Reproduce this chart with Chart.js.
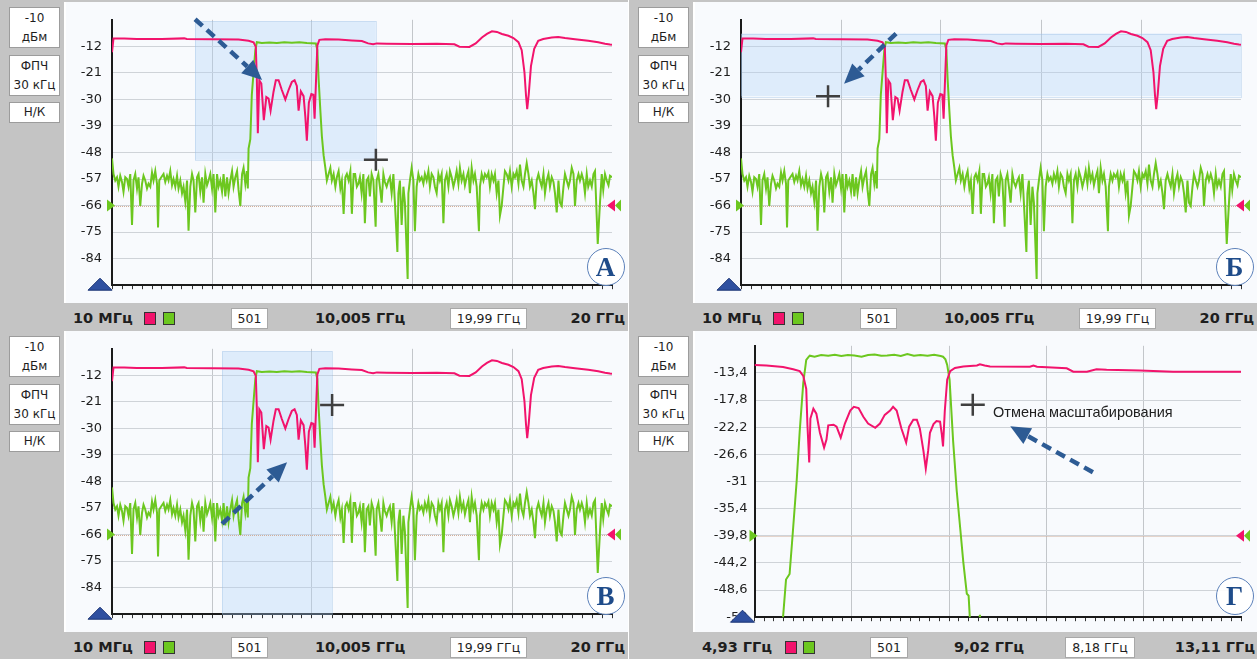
<!DOCTYPE html>
<html lang="ru">
<head>
<meta charset="utf-8">
<title>Масштабирование</title>
<script src="https://cdn.jsdelivr.net/npm/chart.js@4.4.1/dist/chart.umd.min.js"></script>
<style>
  body { margin: 0; width: 1260px; height: 663px; background: #fff; overflow: hidden; position: relative;
         font-family: "DejaVu Sans", sans-serif; color: #1e1e1e; }
  .panel { position: absolute; width: 628px; height: 330px; background: #c4c4c4; }
  .panel canvas { position: absolute; left: 66px; top: 2px; background: #f8fafd; }
  .edge { position: absolute; left: 64px; top: 2px; width: 2px; height: 301px; background: #fff; }
  .box { position: absolute; left: 9px; width: 49px; background: #fff; border: 1px solid #9c9c9c;
         text-align: center; font-size: 12px; line-height: 19px; }
  .lbl { position: absolute; top: 310px; font-weight: bold; font-size: 14.5px; line-height: 17px; white-space: nowrap; }
  .val { position: absolute; top: 308px; height: 19px; background: #fff; border: 1px solid #a8a8a8;
         font-size: 12.5px; line-height: 19px; text-align: center; white-space: nowrap; }
  .sq { position: absolute; top: 312px; width: 10px; height: 11px; border: 1px solid #333; }
  .mark { position: absolute; width: 36px; height: 36px; border-radius: 50%; border: 1.5px solid #5b80b9;
          background: rgba(255,255,255,0.9); color: #1f4c8a; font: bold 27px "Liberation Serif", serif;
          text-align: center; line-height: 37px; }
  .note { position: absolute; font: 14.5px "Liberation Sans", sans-serif; color: #202020; white-space: nowrap; line-height: 17px; }
</style>
</head>
<body>
<script>
// sweep 10 MHz .. 20 GHz (panels A, B, C) : [GHz, dB]
const s11Full = [
  [0.01,-14.0],[0.07,-9.3],[0.5,-9.3],[1.0,-9.5],[2.0,-9.5],[2.9,-9.3],[3.0,-9.5],[4.0,-9.6],[5.07,-9.7],[5.47,-10.1],[5.67,-10.6],[5.76,-12.2],
  [5.80,-23.0],[5.84,-41.5],[5.90,-23.5],[5.98,-24.6],[6.08,-37.0],[6.18,-29.2],[6.27,-29.7],[6.35,-33.8],[6.47,-27.3],[6.56,-23.5],
  [6.67,-23.5],[6.80,-26.8],[6.94,-30.0],[7.07,-26.8],[7.20,-24.1],[7.31,-23.5],[7.40,-25.4],[7.47,-33.8],[7.56,-27.3],[7.67,-28.9],
  [7.74,-35.9],[7.80,-44.0],[7.88,-31.1],[7.98,-28.2],[8.06,-28.4],[8.11,-36.5],[8.16,-25.2],[8.22,-11.7],[8.30,-9.8],[8.54,-9.6],
  [9.07,-9.7],[9.60,-10.0],[10.0,-10.2],[10.25,-11.0],[10.45,-11.3],[10.6,-11.0],[11.0,-11.1],[12.0,-11.2],[13.0,-11.1],[13.7,-11.3],
  [13.9,-12.1],[14.3,-12.2],[14.55,-11.0],[14.8,-9.0],[15.0,-7.8],[15.2,-6.9],[15.4,-7.1],[15.6,-7.8],[15.86,-8.4],[16.06,-9.2],
  [16.26,-10.6],[16.39,-13.3],[16.50,-20.8],[16.56,-28.4],[16.61,-33.3],[16.67,-28.4],[16.76,-18.7],[16.89,-12.8],[17.05,-10.1],
  [17.25,-9.5],[17.59,-9.0],[17.85,-8.8],[18.12,-9.2],[18.52,-9.6],[19.05,-10.1],[19.45,-10.6],[19.72,-11.1],[19.92,-11.4],[20.0,-11.5]
];
const s21Full = [
  [0.01,-50.0],[0.07,-55.3],[0.14,-57.5],[0.21,-56.4],[0.27,-59.6],[0.34,-55.9],[0.41,-58.0],[0.47,-61.3],[0.54,-56.4],[0.61,-57.0],
  [0.67,-59.6],[0.74,-55.3],[0.81,-72.6],[0.87,-57.5],[0.94,-55.3],[1.01,-60.2],[1.07,-56.4],[1.14,-66.1],[1.21,-58.6],[1.27,-55.9],
  [1.34,-57.5],[1.41,-60.2],[1.47,-58.6],[1.54,-59.6],[1.61,-54.8],[1.67,-57.5],[1.74,-54.3],[1.81,-58.6],
  [1.85,-73.4],[1.90,-57.5],[1.98,-56.4],[2.07,-55.3],[2.14,-58.0],[2.21,-55.9],[2.27,-57.5],[2.34,-54.3],[2.41,-59.1],[2.47,-57.0],
  [2.54,-59.6],[2.61,-55.9],[2.67,-60.2],[2.74,-57.5],[2.81,-61.8],[2.87,-59.6],[2.94,-64.5],
  [3.01,-57.5],[3.07,-74.5],[3.14,-59.6],[3.21,-55.3],[3.27,-57.5],[3.34,-68.3],[3.41,-56.4],[3.47,-55.3],[3.54,-61.3],[3.61,-56.4],
  [3.67,-65.0],[3.74,-55.3],[3.81,-59.1],[3.87,-57.5],[3.94,-55.3],[4.01,-60.2],[4.07,-55.3],[4.14,-68.3],[4.21,-55.3],[4.27,-59.6],
  [4.34,-57.5],[4.41,-61.3],[4.47,-55.3],[4.54,-62.9],[4.61,-56.4],[4.67,-61.8],[4.74,-57.5],[4.81,-54.3],[4.87,-59.6],[4.94,-56.4],
  [5.01,-54.3],[5.07,-60.7],[5.14,-66.1],[5.21,-55.3],[5.27,-53.2],[5.34,-58.6],[5.40,-54.3],[5.44,-60.2],[5.47,-46.7],[5.54,-43.5],
  [5.60,-28.4],[5.67,-20.8],[5.74,-13.3],[5.80,-10.6],[6.0,-10.9],[6.3,-10.7],[6.6,-10.9],[6.9,-10.6],[7.2,-10.8],[7.5,-10.6],
  [7.8,-10.9],[8.16,-11.0],[8.22,-13.3],[8.27,-23.0],[8.34,-33.8],[8.40,-42.4],[8.47,-48.9],[8.54,-53.2],[8.60,-57.5],[8.67,-55.3],
  [8.74,-53.2],[8.80,-57.5],[8.87,-55.3],[8.94,-59.6],[9.00,-56.4],[9.07,-54.3],[9.14,-60.2],[9.20,-57.5],[9.27,-68.8],[9.34,-56.4],
  [9.40,-55.3],[9.47,-57.5],[9.54,-54.3],[9.60,-68.8],[9.67,-55.3],[9.73,-55.3],[9.80,-59.6],[9.86,-58.6],[9.92,-56.4],[9.99,-61.8],
  [10.06,-55.3],[10.12,-72.0],[10.19,-57.5],[10.26,-56.4],[10.32,-62.9],[10.39,-55.3],[10.46,-57.5],
  [10.55,-73.2],[10.59,-57.5],[10.66,-55.3],[10.72,-59.6],[10.79,-65.0],[10.86,-55.3],[10.92,-58.0],[10.99,-59.6],[11.06,-57.5],
  [11.12,-56.4],[11.19,-61.8],[11.26,-55.3],[11.32,-65.0],[11.42,-81.7],[11.46,-61.8],[11.52,-57.5],
  [11.59,-72.6],[11.66,-59.6],[11.72,-65.0],[11.83,-90.9],[11.86,-61.8],[11.92,-57.5],[11.99,-53.2],[12.06,-57.5],[12.12,-74.7],
  [12.19,-59.6],[12.26,-55.3],[12.32,-57.5],[12.39,-56.4],[12.46,-58.6],[12.52,-55.3],[12.59,-57.5],
  [12.66,-54.3],[12.72,-59.6],[12.79,-55.3],[12.86,-56.4],[12.92,-59.6],[12.99,-61.8],[13.06,-55.3],[13.12,-57.5],[13.19,-55.3],
  [13.26,-72.0],[13.32,-57.5],[13.39,-55.3],[13.46,-59.6],[13.52,-54.3],[13.59,-56.4],[13.66,-59.6],
  [13.72,-57.5],[13.79,-54.3],[13.86,-58.6],[13.92,-53.2],[13.99,-57.5],[14.06,-55.3],[14.12,-59.1],[14.19,-56.4],[14.26,-54.3],
  [14.32,-61.8],[14.39,-53.2],[14.46,-57.5],[14.52,-55.3],[14.59,-59.6],[14.68,-74.7],[14.72,-59.6],[14.79,-55.3],
  [14.86,-57.5],[14.92,-55.3],[14.99,-56.4],[15.06,-54.8],[15.12,-59.6],[15.19,-55.3],[15.26,-57.5],[15.32,-55.3],[15.39,-61.8],
  [15.46,-57.5],[15.52,-69.4],[15.59,-66.1],[15.66,-59.6],[15.72,-54.3],[15.79,-55.3],[15.86,-57.5],[15.92,-54.3],
  [15.99,-59.6],[16.06,-55.3],[16.12,-56.4],[16.19,-54.3],[16.26,-58.6],[16.32,-52.1],[16.39,-57.5],[16.46,-59.6],[16.52,-55.3],
  [16.59,-51.6],[16.66,-55.3],[16.72,-59.6],[16.79,-57.5],[16.86,-61.8],[16.92,-67.2],[16.99,-57.5],
  [17.06,-55.3],[17.12,-57.5],[17.19,-59.6],[17.26,-55.3],[17.32,-61.8],[17.39,-57.5],[17.46,-55.3],[17.52,-59.6],[17.59,-56.4],
  [17.66,-58.0],[17.72,-61.8],[17.79,-68.3],[17.86,-57.5],[17.92,-65.0],[17.99,-66.1],[18.06,-59.6],[18.12,-55.3],
  [18.19,-57.5],[18.26,-59.6],[18.32,-57.5],[18.39,-53.2],[18.46,-55.3],[18.52,-66.1],[18.59,-57.5],[18.66,-55.3],[18.72,-57.5],
  [18.79,-55.3],[18.86,-57.5],[18.92,-61.8],[18.99,-55.3],[19.05,-59.6],[19.12,-57.5],[19.19,-59.6],[19.26,-55.3],
  [19.32,-54.3],[19.43,-79.0],[19.52,-65.0],[19.59,-55.3],[19.65,-60.7],[19.72,-55.3],[19.79,-57.5],[19.86,-59.1],[19.92,-55.9],
  [20.0,-56.4]
];

// zoomed sweep 4,93 .. 13,11 GHz (panel D)
const s11Zoom = [
  [4.93,-12.1],[5.13,-12.2],[5.41,-12.45],[5.58,-12.8],[5.69,-13.1],[5.75,-13.9],[5.80,-16.0],[5.82,-21.8],[5.85,-27.9],[5.87,-20.8],
  [5.92,-19.2],[5.97,-20.0],[6.03,-23.1],[6.10,-25.5],[6.14,-24.2],[6.17,-21.9],[6.26,-21.8],[6.31,-22.1],[6.38,-23.9],[6.45,-21.6],
  [6.54,-19.5],[6.60,-18.9],[6.68,-19.1],[6.76,-20.5],[6.84,-21.6],[6.96,-22.3],[7.04,-21.6],[7.12,-20.2],[7.21,-19.5],[7.26,-18.9],
  [7.32,-19.5],[7.40,-22.4],[7.48,-24.7],[7.53,-22.1],[7.60,-21.0],[7.66,-21.0],[7.71,-22.4],[7.77,-26.0],[7.81,-28.9],[7.85,-26.0],
  [7.88,-23.1],[7.94,-21.7],[7.99,-21.2],[8.05,-21.3],[8.08,-23.4],[8.10,-25.3],[8.13,-19.5],[8.17,-14.5],[8.22,-13.1],[8.30,-12.6],
  [8.44,-12.35],[8.67,-12.2],[8.72,-12.0],[8.80,-12.2],[8.89,-12.35],[9.56,-12.4],[9.62,-12.2],[9.68,-12.4],[10.18,-12.65],
  [10.29,-13.2],[10.52,-13.2],[10.68,-12.8],[10.85,-12.9],[11.41,-13.0],[11.97,-13.2],[13.11,-13.2]
];
const s21Zoom = [
  [5.30,-60.0],[5.41,-53.0],[5.46,-46.9],[5.52,-46.0],[5.57,-39.8],[5.64,-30.8],[5.69,-22.9],[5.75,-15.0],[5.80,-11.3],[5.84,-10.8],
  [5.86,-10.6],[5.94,-10.77],[6.05,-10.5],[6.17,-10.61],[6.28,-10.45],[6.39,-10.66],[6.50,-10.5],[6.61,-10.56],[6.73,-10.77],
  [6.84,-10.5],[6.95,-10.4],[7.06,-10.61],[7.16,-10.56],[7.28,-10.45],[7.39,-10.66],[7.50,-10.34],[7.61,-10.61],[7.72,-10.5],
  [7.84,-10.61],[7.95,-10.45],[8.06,-10.66],[8.10,-10.77],[8.14,-11.2],[8.17,-12.1],[8.21,-14.5],[8.27,-24.5],[8.33,-32.5],
  [8.39,-38.7],[8.44,-44.0],[8.50,-49.2],[8.53,-49.5],[8.55,-53.0],[8.60,-60.0],[8.67,-58.0],[8.72,-52.6],[8.77,-58.0],
  [9.5,-60.0],[10.5,-62.0],[11.5,-59.0],[12.5,-61.0],[13.11,-60.0]
];

const fullSpan = [0.01, 20];
const zoomSpan = [4.93, 13.11];
const fullDbTicks = [-93, -84, -75, -66, -57, -48, -39, -30, -21, -12, -3];
const zoomDbTicks = [-53, -48.6, -44.2, -39.8, -35.4, -31, -26.6, -22.2, -17.8, -13.4, -9];
const refFull = -66;
const refZoom = -39.8;

const sideText = [['-10', 'дБм'], ['ФПЧ', '30 кГц'], ['Н/К']];
const fullBarText = ['10 МГц', '501', '10,005 ГГц', '19,99 ГГц', '20 ГГц'];
const zoomBarText = ['4,93 ГГц', '501', '9,02 ГГц', '8,18 ГГц', '13,11 ГГц'];

const red = '#f2136c', green = '#6cc71f';

// bottom bar layout: start label, two squares, point count box, centre label, span box, end label
const fullBar = { start: 73, sq: [144, 163], count: [231, 35], mid: 315, span: [450, 75], endRight: 3 };
const zoomBar = { start: 73, sq: [156, 174], count: [241, 36], mid: 325, span: [436, 68], endRight: 2 };

const panels = [
  { id: 'pA', left: 0, top: 0, letter: 'А', axisW: 46, pad: 10, full: true,
    sel: [3.33, 10.56, -3.46, -50.5], arrow: [3.33, -2.8, 6.01, -23.4], cross: [10.56, -50.5] },
  { id: 'pB', left: 629, top: 0, letter: 'Б', axisW: 46, pad: 10, full: true,
    sel: [0.01, 20, -7.65, -28.9], arrow: [6.21, -7.65, 4.13, -24.7], cross: [3.49, -28.9] },
  { id: 'pC', left: 0, top: 329, letter: 'В', axisW: 46, pad: 10, full: true,
    sel: [4.41, 8.81, -3.8, -93], arrow: [4.41, -62.4, 7.01, -41.5], cross: [8.81, -22.1] },
  { id: 'pD', left: 629, top: 329, letter: 'Г', axisW: 59.5, pad: 7, full: false,
    arrow: [10.62, -29.5, 9.23, -22.06], cross: [8.60, -18.56], note: 'Отмена масштабирования' }
];
const panelById = {};

function tri(ctx, pts, fill, stroke) {
  ctx.beginPath();
  ctx.moveTo(pts[0][0], pts[0][1]);
  ctx.lineTo(pts[1][0], pts[1][1]);
  ctx.lineTo(pts[2][0], pts[2][1]);
  ctx.closePath();
  ctx.fillStyle = fill;
  ctx.fill();
  if (stroke) { ctx.strokeStyle = stroke; ctx.lineWidth = 1; ctx.stroke(); }
}

function arrow(ctx, x1, y1, x2, y2) {
  const ang = Math.atan2(y2 - y1, x2 - x1), head = 20, w = 9;
  const bx = x2 - head * Math.cos(ang), by = y2 - head * Math.sin(ang);
  ctx.save();
  ctx.strokeStyle = '#2d5b94';
  ctx.lineWidth = 4.5;
  ctx.setLineDash([10, 6]);
  ctx.beginPath(); ctx.moveTo(x1, y1); ctx.lineTo(bx, by); ctx.stroke();
  ctx.setLineDash([]);
  tri(ctx, [[x2, y2], [bx + w * Math.sin(ang), by - w * Math.cos(ang)], [bx - w * Math.sin(ang), by + w * Math.cos(ang)]], '#2d5b94');
  ctx.restore();
}

const overlay = {
  id: 'overlay',
  beforeDatasetsDraw(chart) {
    const p = panelById[chart.canvas.id];
    const {ctx, chartArea: a, scales: {x, y}} = chart;
    ctx.save();
    if (p.sel) {
      const x1 = x.getPixelForValue(p.sel[0]), x2 = x.getPixelForValue(p.sel[1]);
      const y1 = y.getPixelForValue(p.sel[2]), y2 = y.getPixelForValue(p.sel[3]);
      ctx.fillStyle = 'rgba(176,210,246,0.35)';
      ctx.fillRect(x1, y1, x2 - x1, y2 - y1);
      ctx.strokeStyle = 'rgba(150,185,225,0.35)';
      ctx.lineWidth = 1;
      ctx.strokeRect(Math.round(x1) + .5, Math.round(y1) + .5, Math.round(x2 - x1), Math.round(y2 - y1));
    }
    const ry = Math.round(y.getPixelForValue(p.ref)) + .5;
    ctx.strokeStyle = '#d2ae98';
    ctx.lineWidth = 1;
    ctx.setLineDash([1, 1]);
    ctx.beginPath(); ctx.moveTo(a.left, ry); ctx.lineTo(a.right, ry); ctx.stroke();
    ctx.restore();
  },
  afterDraw(chart) {
    const p = panelById[chart.canvas.id];
    const {ctx, chartArea: a, scales: {x, y}} = chart;
    const ry = y.getPixelForValue(p.ref);
    ctx.save();
    tri(ctx, [[a.left + 3, ry], [a.left - 5, ry - 6], [a.left - 5, ry + 6]], green);
    tri(ctx, [[a.right + 3, ry], [a.right + 9, ry - 6], [a.right + 9, ry + 6]], green);
    tri(ctx, [[a.right - 5, ry], [a.right + 3, ry - 6], [a.right + 3, ry + 6]], red);
    tri(ctx, [[a.left - 24, a.bottom + 5], [a.left, a.bottom + 5], [a.left - 12, a.bottom - 7]], '#2f50a0', '#1c3575');
    const cx = x.getPixelForValue(p.cross[0]), cy = y.getPixelForValue(p.cross[1]);
    ctx.strokeStyle = '#3f3f3f';
    ctx.lineWidth = 2.5;
    ctx.beginPath();
    ctx.moveTo(cx - 12, cy); ctx.lineTo(cx + 12, cy);
    ctx.moveTo(cx, cy - 11); ctx.lineTo(cx, cy + 11);
    ctx.stroke();
    arrow(ctx, x.getPixelForValue(p.arrow[0]), y.getPixelForValue(p.arrow[1]),
               x.getPixelForValue(p.arrow[2]), y.getPixelForValue(p.arrow[3]));
    ctx.restore();
  }
};

function el(parent, cls, css, text) {
  const d = document.createElement('div');
  d.className = cls;
  Object.assign(d.style, css);
  if (text !== undefined) d.textContent = text;
  parent.appendChild(d);
  return d;
}

panels.forEach(p => {
  Object.assign(p, p.full
    ? { span: fullSpan, ticks: fullDbTicks, ref: refFull, s11: s11Full, s21: s21Full, bar: fullBar, barText: fullBarText }
    : { span: zoomSpan, ticks: zoomDbTicks, ref: refZoom, s11: s11Zoom, s21: s21Zoom, bar: zoomBar, barText: zoomBarText });
  panelById[p.id] = p;

  const pane = el(document.body, 'panel', { left: p.left + 'px', top: p.top + 'px' });
  el(pane, 'edge', {});

  // left side info boxes
  const boxTops = [7, 55, 102];
  sideText.forEach((lines, i) => {
    const b = el(pane, 'box', { top: boxTops[i] + 'px', paddingTop: lines.length > 1 ? '1px' : '0', height: lines.length > 1 ? '38px' : '19px' });
    b.innerHTML = lines.join('<br>');
  });

  // bottom bar
  const t = p.barText, bar = p.bar;
  el(pane, 'lbl', { left: bar.start + 'px' }, t[0]);
  el(pane, 'sq', { left: bar.sq[0] + 'px', background: red });
  el(pane, 'sq', { left: bar.sq[1] + 'px', background: green });
  el(pane, 'val', { left: bar.count[0] + 'px', width: bar.count[1] + 'px' }, t[1]);
  el(pane, 'lbl', { left: bar.mid + 'px' }, t[2]);
  el(pane, 'val', { left: bar.span[0] + 'px', width: bar.span[1] + 'px' }, t[3]);
  el(pane, 'lbl', { right: bar.endRight + 'px' }, t[4]);

  const cv = document.createElement('canvas');
  cv.id = p.id;
  cv.width = 562;
  cv.height = 301;
  pane.appendChild(cv);

  el(pane, 'mark', { left: (605.5 - 19) + 'px', top: (266.5 - 19) + 'px' }, p.letter);
  if (p.note) el(pane, 'note', { left: '364px', top: '75px' }, p.note);

  const last = p.ticks.length - 1;
  new Chart(cv, {
    type: 'line',
    data: {
      datasets: [
        { label: 'S11', data: p.s11.map(([f, v]) => ({ x: f, y: v })), borderColor: red, borderWidth: 2, pointRadius: 0, tension: 0 },
        { label: 'S21', data: p.s21.map(([f, v]) => ({ x: f, y: v })), borderColor: green, borderWidth: 2, pointRadius: 0, tension: 0 }
      ]
    },
    options: {
      responsive: false,
      animation: false,
      events: [],
      layout: { padding: { top: 12.6, right: 16, left: 0, bottom: 0 } },
      plugins: { legend: { display: false }, tooltip: { enabled: false } },
      scales: {
        x: {
          type: 'linear', min: p.span[0], max: p.span[1],
          afterBuildTicks: s => {
            s.ticks = Array.from({ length: 51 }, (_, i) => ({ value: p.span[0] + i * (p.span[1] - p.span[0]) / 50 }));
          },
          afterFit: s => { s.height = 9; },
          ticks: { display: false },
          grid: {
            color: c => (c.index % 10 === 0 && c.index > 0 && c.index < 50) ? '#c3c6ca' : 'transparent',
            tickColor: '#333', tickLength: 4
          },
          border: { color: '#1a1a1a', width: 2 }
        },
        y: {
          min: p.ticks[0], max: p.ticks[last],
          afterBuildTicks: s => { s.ticks = p.ticks.map(v => ({ value: v })); },
          afterFit: s => { s.width = p.axisW; },
          ticks: {
            color: '#1e1e1e', padding: p.pad, font: { family: 'DejaVu Sans', size: 13 },
            callback: (v, i) => (i === last || (p.full && i === 0)) ? '' : String(v).replace('.', ',')
          },
          grid: { drawTicks: false, color: c => c.index === last ? 'transparent' : '#cfd3d8' },
          border: { color: '#1a1a1a', width: 2 }
        }
      }
    },
    plugins: [overlay]
  });
});
</script>
</body>
</html>
